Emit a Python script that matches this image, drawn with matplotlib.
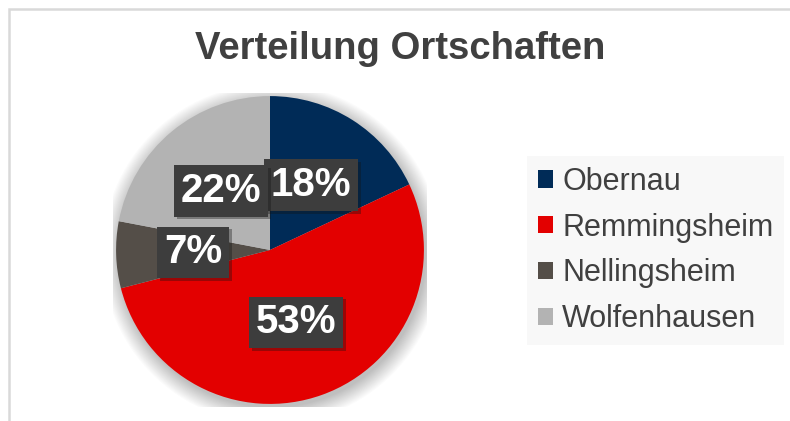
import matplotlib
matplotlib.use("Agg")
import matplotlib.pyplot as plt
import matplotlib.patches as patches
import matplotlib.patheffects as pe

# --- DATA ---
places = ["Obernau", "Remmingsheim", "Nellingsheim", "Wolfenhausen"]
shares = [18, 53, 7, 22]
colors = ["#002b57", "#e30000", "#544e48", "#b3b3b3"]
title = "Verteilung Ortschaften"

plt.rcParams["font.family"] = ["Liberation Sans", "DejaVu Sans"]

W, H = 790, 421
fig = plt.figure(figsize=(W / 100, H / 100), dpi=100)
fig.patch.set_facecolor("white")

# light grey chart frame (runs off the right / bottom edge)
frame = patches.Rectangle((9 / W, -0.1), 1.2, 1 - 9 / H + 0.1, transform=fig.transFigure,
                          fill=False, edgecolor="#d9d9d9", linewidth=1.8)
fig.patches.append(frame)

# pie axes: centre (270, 250) px, radius 157 px
cx, cy, r = 270, 250, 157
ax = fig.add_axes([(cx - r) / W, (H - cy - r) / H, 2 * r / W, 2 * r / H])
ax.set_aspect("equal")

# soft shadow behind the pie
for i in range(16):
    ax.add_patch(patches.Circle((0.015, -0.025), 1.0 + i * 0.007, facecolor="black",
                                edgecolor="none", alpha=0.016, zorder=0))

wedges, texts, autotexts = ax.pie(
    shares, colors=colors, startangle=90, counterclock=False, radius=1,
    autopct=lambda p: f"{round(p)}%", pctdistance=0.5,
    wedgeprops=dict(linewidth=0),
    textprops=dict(color="white", fontsize=29, fontweight="bold"))

for t in autotexts:
    t.set_bbox(dict(boxstyle="square,pad=0.17", facecolor="#3d3d3d", edgecolor="none"))
    t.get_bbox_patch().set_path_effects([pe.SimplePatchShadow(offset=(2, -2), alpha=0.35),
                                         pe.Normal()])
for w in wedges:
    w.set_zorder(1)

ax.set_xlim(-1.02, 1.02)
ax.set_ylim(-1.02, 1.02)
ax.axis("off")

fig.text(400 / W, 1 - 49 / H, title, ha="center", va="center",
         fontsize=27.5, fontweight="bold", color="#404040")

leg = fig.legend(wedges, places, loc="upper left", bbox_to_anchor=(527 / W, 1 - 156 / H),
                 fontsize=22, frameon=True, fancybox=False, handlelength=0.5,
                 handleheight=0.5, handletextpad=0.3, labelspacing=0.52,
                 borderpad=0.35, borderaxespad=0)
leg.get_frame().set_facecolor("#f7f7f7")
leg.get_frame().set_edgecolor("none")
for t in leg.get_texts():
    t.set_color("#404040")

fig.savefig("out.png", dpi=100)
